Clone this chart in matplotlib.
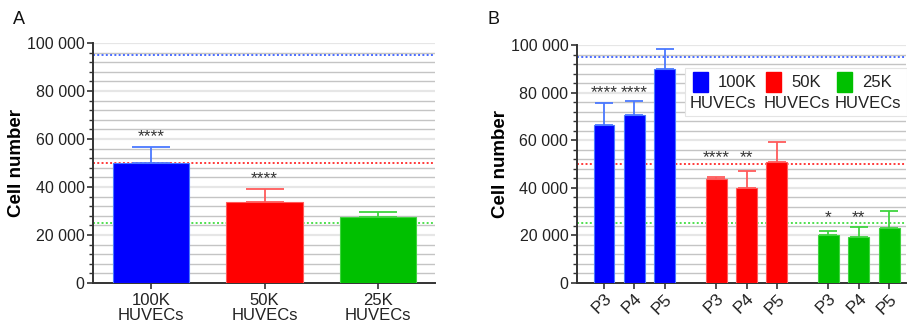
import matplotlib
matplotlib.use("Agg")
import matplotlib.pyplot as plt
from matplotlib.ticker import FuncFormatter, MultipleLocator
from matplotlib.patches import Rectangle

plt.rcParams['font.family'] = ['Liberation Sans', 'DejaVu Sans']

# Panel A: seeding densities
a_labels = ["100K\nHUVECs", "50K\nHUVECs", "25K\nHUVECs"]
a_means = [50000, 33600, 27600]
a_err = [6800, 5600, 1900]
a_stars = ["****", "****", ""]

# Panel B: passages within each seeding density
b_groups = ["100K\nHUVECs", "50K\nHUVECs", "25K\nHUVECs"]
b_passages = ["P3", "P4", "P5"]
b_means = [[66300, 70500, 89900],
           [43500, 39700, 50600],
           [20100, 19100, 23100]]
b_err = [[9400, 6100, 8300],
         [1100, 7400, 8700],
         [1800, 4200, 7200]]
b_stars = [["****", "****", ""],
           ["****", "**", ""],
           ["*", "**", ""]]
b_star_levels = [81000, 54000, 28500]

# expected cell numbers (seeded density reference lines)
ref_levels = [95000, 50000, 25000]

colors = ["#0000ff", "#ff0000", "#00c000"]
err_colors = ["#4a78ff", "#ff5a5a", "#3fd43f"]
ref_colors = ["#4a6cff", "#ff3a3a", "#50e050"]

fig = plt.figure(figsize=(9.07, 3.25), dpi=100)
axA = fig.add_axes([0.1025, 0.1292, 0.3771, 0.7385])
axB = fig.add_axes([0.6358, 0.1302, 0.3632, 0.7313])


def style_axis(ax):
    ax.set_ylim(0, 100000)
    ax.yaxis.set_major_locator(MultipleLocator(20000))
    ax.yaxis.set_minor_locator(MultipleLocator(4000))
    ax.yaxis.set_major_formatter(FuncFormatter(lambda v, p: f"{int(v):,}".replace(",", " ")))
    for y in range(4000, 100001, 4000):
        major = y % 20000 == 0
        ax.axhline(y, color="#e6e6e6" if major else "#c4c4c4",
                   lw=1.6 if major else 1.0, zorder=0)
    for lvl, c in zip(ref_levels, ref_colors):
        ax.axhline(lvl, color=c, lw=1.4, ls=(0, (1, 1.2)), zorder=1)
    for s in ["top", "right"]:
        ax.spines[s].set_visible(False)
    for s in ["left", "bottom"]:
        ax.spines[s].set_color("#333333")
        ax.spines[s].set_linewidth(1.4)
    ax.tick_params(axis="y", which="major", length=4, width=1.2, color="#333333",
                   labelsize=11.5, labelcolor="#222222", pad=2)
    ax.tick_params(axis="y", which="minor", length=3, width=1.0, color="#333333")
    ax.set_ylabel("Cell number", fontsize=13.5, fontweight="bold", labelpad=1)


# ---- Panel A ----
style_axis(axA)
xa = list(range(len(a_means)))
axA.bar(xa, a_means, width=0.67, color=colors, edgecolor=err_colors, lw=0.8, zorder=3)
for x, m, e, c, s in zip(xa, a_means, a_err, err_colors, a_stars):
    axA.errorbar(x, m, yerr=[[0], [e]], color=c, capsize=13.5, capthick=1.3,
                 elinewidth=1.3, zorder=2)
    if s:
        axA.text(x, m + e + 4200, s, ha="center", va="center", fontsize=12.5,
                 color="#333333", zorder=4)
axA.set_xlim(-0.51, 2.5)
axA.set_xticks(xa)
axA.set_xticklabels(a_labels, fontsize=12, color="#222222", linespacing=1.0)
axA.tick_params(axis="x", length=4, width=1.2, color="#333333", pad=3)
fig.text(0.014, 0.925, "A", fontsize=13, color="#111111")

# ---- Panel B ----
style_axis(axB)
group_step = 3.7
for g, (means, errs, stars) in enumerate(zip(b_means, b_err, b_stars)):
    xs = [g * group_step + i for i in range(len(means))]
    axB.bar(xs, means, width=0.69, color=colors[g], edgecolor=err_colors[g],
            lw=0.8, zorder=3)
    for x, m, e, s in zip(xs, means, errs, stars):
        axB.errorbar(x, m, yerr=[[0], [e]], color=err_colors[g], capsize=6.5,
                     capthick=1.3, elinewidth=1.3, zorder=2)
        if s:
            axB.text(x, b_star_levels[g] - 1200, s, ha="center", va="center",
                     fontsize=12.5, color="#333333", zorder=4)
xb = [g * group_step + i for g in range(3) for i in range(3)]
axB.set_xlim(-0.9, 9.96)
axB.set_xticks(xb)
axB.set_xticklabels(b_passages * 3, rotation=45, ha="right", rotation_mode="anchor",
                    fontsize=12.5, color="#222222")
axB.tick_params(axis="x", length=4, width=1.2, color="#333333", pad=2)
fig.text(0.537, 0.925, "B", fontsize=13, color="#111111")

# legend: square swatch beside density, cell type underneath
axB.add_patch(Rectangle((0.33, 0.70), 0.672, 0.205, transform=axB.transAxes,
                        facecolor="white", edgecolor="#e4e4e4", lw=0.8, zorder=5,
                        clip_on=False))
leg_x = [0.353, 0.576, 0.791]
for lx, c, name in zip(leg_x, colors, b_groups):
    dens, cell = name.split("\n")
    axB.add_patch(Rectangle((lx, 0.802), 0.045, 0.084, transform=axB.transAxes,
                            facecolor=c, edgecolor=c, zorder=6, clip_on=False))
    axB.text(lx + 0.075, 0.842, dens, transform=axB.transAxes, ha="left",
             va="center", fontsize=12, color="#222222", zorder=7)
    axB.text(lx - 0.009, 0.752, cell, transform=axB.transAxes, ha="left",
             va="center", fontsize=12, color="#222222", zorder=7)

fig.savefig("out.png", dpi=100)
